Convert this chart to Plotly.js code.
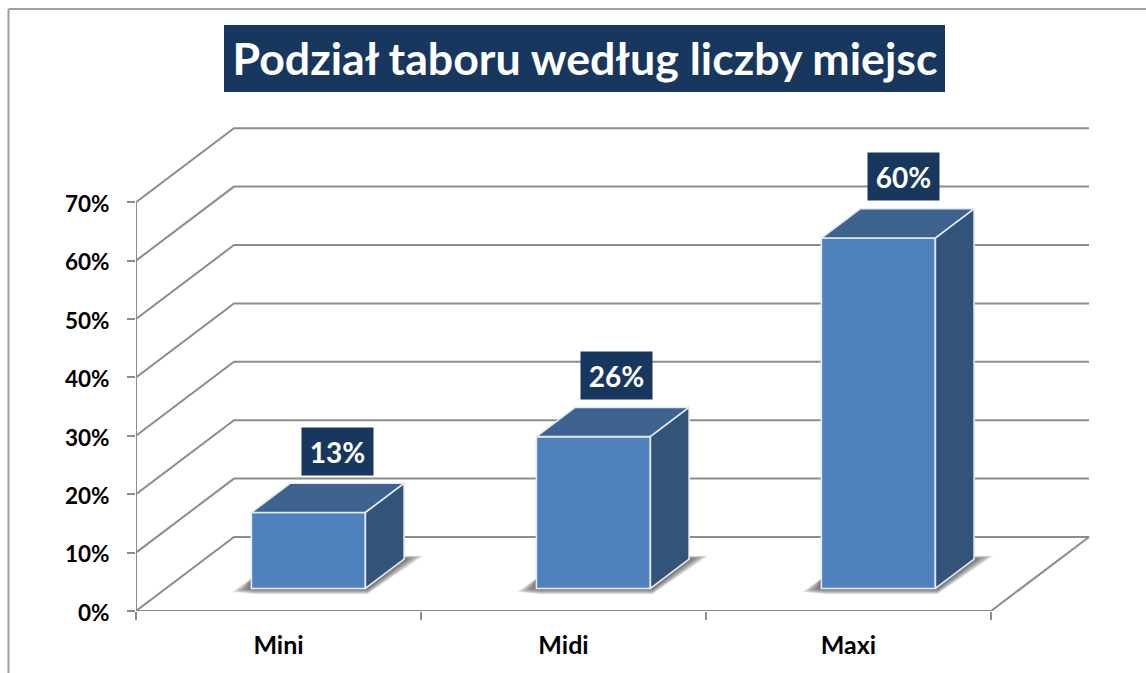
<!DOCTYPE html>
<html>
<head>
<meta charset="utf-8">
<script src="https://cdn.plot.ly/plotly-3.0.1.min.js"></script>
<style>html,body{margin:0;padding:0;background:#fff}#chart{width:1146px;height:673px}</style>
</head>
<body>
<div id="chart"></div>
<script>
const categories = ['Mini', 'Midi', 'Maxi'];
const values = [13, 26, 60];
const labels = ['13%', '26%', '60%'];
const yTicks = [0, 10, 20, 30, 40, 50, 60, 70];
const yTickText = ['0%', '10%', '20%', '30%', '40%', '50%', '60%', '70%'];
const chartTitle = 'Podział taboru według liczby miejsc';

const W = 1146, H = 673;
const plotL = 136, plotB = 611, plotR = 1100, plotT = 118;
const pxX = 285, pxY = 5.84;          // pixels per category / per percent
const dX = 98 / pxX, dY = 74 / pxY;   // depth of the 3D box, in axis units
const d0 = 0.305, d1 = 0.70;          // bar depth position within the box
const barW = 0.4;
const labelShiftPx = [29, 23.5, 25.5];
const GRID = '#8c8c8c', EDGE = '#e6ecf4', NAVY = '#17375e';
const FONT = 'Lato, Carlito, "Open Sans", sans-serif';

const xRange = [0, (plotR - plotL) / pxX];
const yRange = [0, (plotB - plotT) / pxY];
const px = p => p / pxX, py = p => p / pxY;
const paperX = p => (p - plotL) / (plotR - plotL);
const paperY = p => (plotB - p) / (plotB - plotT);

const shapes = [];
// frame and title plate
shapes.push({type:'line', xref:'paper', yref:'paper', x0:paperX(8.5), x1:paperX(8.5), y0:paperY(9), y1:paperY(H+5), line:{color:'#a0a0a0', width:2}, layer:'below'});
shapes.push({type:'line', xref:'paper', yref:'paper', x0:paperX(8.5), x1:paperX(W+5), y0:paperY(9), y1:paperY(9), line:{color:'#a0a0a0', width:2}, layer:'below'});
shapes.push({type:'rect', xref:'paper', yref:'paper', x0:paperX(224), x1:paperX(945), y0:paperY(25), y1:paperY(92), fillcolor:NAVY, line:{width:0}, layer:'below'});
// wall grid
yTicks.forEach(v => {
  shapes.push({type:'path', xref:'x', yref:'y', layer:'below', line:{color:GRID, width:2},
    path:`M 0 ${v} L ${dX} ${v + dY} L ${3 + dX} ${v + dY}`});
});
// soft floor shadows: stacked translucent polygons that shrink toward the bar
const shadowSteps = [1.15, 1.05, 0.95, 0.85, 0.75, 0.65, 0.55, 0.45, 0.35, 0.25, 0.15];
categories.forEach((c, i) => {
  const L = i + 0.5 - barW / 2 + d0 * dX, R = L + barW;
  const yF = d0 * dY, yB = d1 * dY, xShift = (d1 - d0) * dX;
  shadowSteps.forEach(k => {
    const pts = [
      [L - px(17 * k), yF - py(3 * k)],
      [L + px(4), yF - py(5 * k)],
      [R + px(2), yF - py(5 * k)],
      [R + xShift + px(17 * k), yB + py(3 * k)],
      [R + xShift - px(4), yB + py(3 * k)],
      [L, yF + py(10)]
    ];
    shapes.push({type:'path', xref:'x', yref:'y', layer:'below', line:{width:0}, fillcolor:'rgba(60,60,60,0.09)',
      path:'M ' + pts.map(p => p.join(' ')).join(' L ') + ' Z'});
  });
});

const traces = [];
// front faces
traces.push({
  type:'bar', x:categories.map((c, i) => i + 0.5 + d0 * dX), y:values, base:values.map(() => d0 * dY), width:barW,
  marker:{color:'#4f81bd', line:{color:EDGE, width:1.6}}, hoverinfo:'skip', showlegend:false
});
const face = (xs, ys, color) => ({
  type:'scatter', mode:'lines', x:xs, y:ys, fill:'toself', fillcolor:color,
  line:{color:EDGE, width:1.6}, hoverinfo:'skip', showlegend:false
});
values.forEach((v, i) => {
  const L = i + 0.5 - barW / 2 + d0 * dX, R = L + barW;
  const yF = d0 * dY, xS = (d1 - d0) * dX, yS = (d1 - d0) * dY;
  traces.push(face([L, L + xS, R + xS, R, L], [yF + v, yF + v + yS, yF + v + yS, yF + v, yF + v], '#3e6390'));
  traces.push(face([R, R + xS, R + xS, R, R], [yF, yF + yS, yF + v + yS, yF + v, yF], '#335379'));
});
// axis lines and floor edge
traces.push({
  type:'scatter', mode:'lines', cliponaxis:false, x:[0, 0, 3, 3 + dX], y:[70, 0, 0, dY],
  line:{color:GRID, width:2}, hoverinfo:'skip', showlegend:false
});

const annotations = values.map((v, i) => ({
  xref:'x', yref:'y', x:i + 0.5 + d0 * dX + px(labelShiftPx[i]), y:v + d0 * dY + py(61.3),
  text:labels[i], showarrow:false, xanchor:'center', yanchor:'middle',
  width:71, height:47, bgcolor:NAVY, borderpad:0,
  font:{family:FONT, size:28, color:'#ffffff', weight:700}
}));

const layout = {
  width:W, height:H, paper_bgcolor:'#ffffff', plot_bgcolor:'rgba(0,0,0,0)', showlegend:false,
  margin:{l:plotL, r:W - plotR, t:plotT, b:H - plotB, pad:0},
  title:{text:chartTitle, x:585 / W, xref:'container', xanchor:'center', y:1 - 59 / H, yref:'container', yanchor:'middle',
    font:{family:FONT, size:44.7, color:'#ffffff', weight:700}},
  xaxis:{range:xRange, tickmode:'array', tickvals:[0.5, 1.5, 2.5], ticktext:categories, ticks:'', showgrid:false, zeroline:false, showline:false,
    ticklabelstandoff:17, tickfont:{family:FONT, size:25, color:'#000000', weight:700},
    minor:{tickmode:'array', tickvals:[0, 1, 2, 3], ticks:'outside', ticklen:8, tickwidth:2, tickcolor:GRID, showgrid:false}},
  yaxis:{range:yRange, tickmode:'array', tickvals:yTicks, ticktext:yTickText, ticks:'outside', ticklen:8, tickwidth:2, tickcolor:GRID, showgrid:false, zeroline:false, showline:false,
    ticklabelstandoff:13, ticklabelshift:2, tickfont:{family:FONT, size:22.5, color:'#000000', weight:700}},
  shapes, annotations
};
Plotly.newPlot('chart', traces, layout, {displayModeBar:false, staticPlot:true});
</script>
</body>
</html>
